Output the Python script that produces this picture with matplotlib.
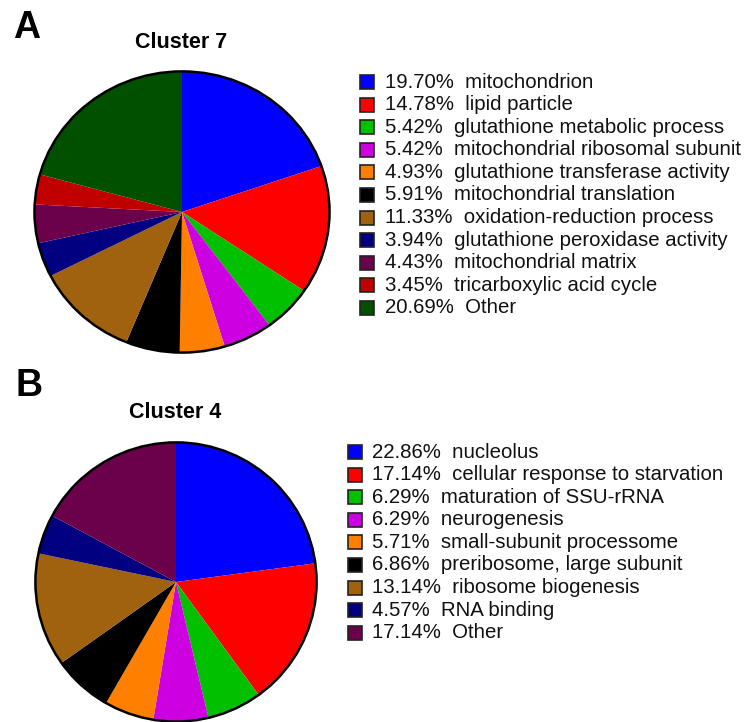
import matplotlib
matplotlib.use('Agg')
import matplotlib.pyplot as plt
import matplotlib.patches as mpatches

# Cluster 7 data
labels_a = ['mitochondrion', 'lipid particle', 'glutathione metabolic process',
            'mitochondrial ribosomal subunit', 'glutathione transferase activity',
            'mitochondrial translation', 'oxidation-reduction process',
            'glutathione peroxidase activity', 'mitochondrial matrix',
            'tricarboxylic acid cycle', 'Other']
values_a = [19.70, 14.78, 5.42, 5.42, 4.93, 5.91, 11.33, 3.94, 4.43, 3.45, 20.69]
colors_a = ['#0000FF', '#FF0000', '#00C000', '#CC00E0', '#FF8000', '#000000',
            '#A0620F', '#000080', '#6B004B', '#C00000', '#005000']

# Cluster 4 data
labels_b = ['nucleolus', 'cellular response to starvation', 'maturation of SSU-rRNA',
            'neurogenesis', 'small-subunit processome', 'preribosome, large subunit',
            'ribosome biogenesis', 'RNA binding', 'Other']
values_b = [22.86, 17.14, 6.29, 6.29, 5.71, 6.86, 13.14, 4.57, 17.14]
colors_b = ['#0000FF', '#FF0000', '#00C000', '#CC00E0', '#FF8000', '#000000',
            '#A0620F', '#000080', '#6B004B']

W, H = 751, 722
fig = plt.figure(figsize=(W / 100, H / 100), dpi=100)
plt.rcParams['font.family'] = ['Liberation Sans', 'DejaVu Sans']


def px_axes(left, top, right, bottom):
    # axes from pixel box (origin top-left)
    return fig.add_axes([left / W, 1 - bottom / H, (right - left) / W, (bottom - top) / H])


def draw_pie(ax, values, colors):
    ax.pie(values, colors=colors, startangle=90, counterclock=False,
           wedgeprops=dict(linewidth=0))
    ax.add_patch(mpatches.Circle((0, 0), 1, fill=False, edgecolor='black', lw=1.8))
    ax.set_aspect('auto')
    ax.set_xlim(-1.01, 1.01)
    ax.set_ylim(-1.01, 1.01)
    ax.axis('off')


def draw_legend(labels, values, colors, sq_x, text_x, y0, step):
    for i, (lab, v, c) in enumerate(zip(labels, values, colors)):
        y = y0 + i * step
        fig.patches.append(mpatches.Rectangle(
            (sq_x / W, 1 - (y + 7) / H), 14 / W, 14 / H, transform=fig.transFigure,
            facecolor=c, edgecolor='#222222', lw=1.2))
        fig.text(text_x / W, 1 - y / H, '%.2f%%  %s' % (v, lab),
                 fontsize=14.7, va='center', ha='left', color='#111111')


ax_a = px_axes(33, 70, 331, 354)
draw_pie(ax_a, values_a, colors_a)
ax_b = px_axes(34, 441, 318, 723)
draw_pie(ax_b, values_b, colors_b)

fig.text(181 / W, 1 - 42 / H, 'Cluster 7', fontsize=15.5, fontweight='bold',
         ha='center', va='center')
fig.text(175 / W, 1 - 412 / H, 'Cluster 4', fontsize=15.5, fontweight='bold',
         ha='center', va='center')

for lab, x, y in [('A', 13, 28), ('B', 15, 386)]:
    fig.text(x / W, 1 - y / H, lab, fontsize=27, fontweight='heavy', ha='left',
             va='center')

draw_legend(labels_a, values_a, colors_a, 360, 385, 82, 22.6)
draw_legend(labels_b, values_b, colors_b, 348, 372, 452, 22.6)

fig.savefig('out.png', dpi=100)
